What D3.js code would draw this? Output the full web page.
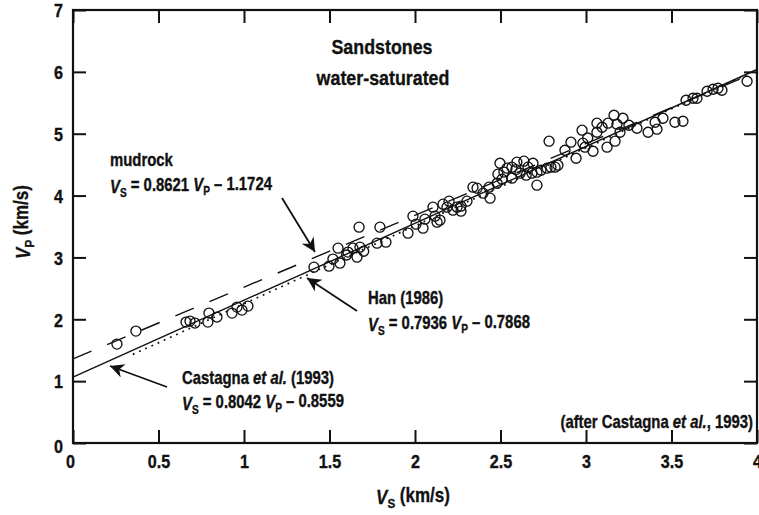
<!DOCTYPE html>
<html><head><meta charset="utf-8">
<script src="https://cdn.jsdelivr.net/npm/d3@7"></script>
<style>
body{margin:0;background:#fff;}
text{font-family:"Liberation Sans",Arial,Helvetica,sans-serif;font-weight:bold;fill:#111;stroke:#111;stroke-width:0.35px;}
</style></head>
<body><svg id="c" width="759" height="515"></svg>
<script>
// ---- data ----
const xTicks = [0,0.5,1,1.5,2,2.5,3,3.5,4];
const yTicks = [0,1,2,3,4,5,6,7];
const vs = [0.257,0.368,0.661,0.684,0.713,0.795,0.789,0.842,0.930,0.959,0.988,1.023,
 1.409,1.497,1.520,1.550,1.561,1.608,1.637,1.661,1.678,1.673,1.778,1.795,1.830,
 1.959,1.988,2.006,2.047,2.058,2.105,2.117,2.129,2.164,2.199,2.246,2.269,2.269,2.304,
 2.339,2.363,2.398,2.433,2.439,2.480,2.497,2.485,2.509,2.538,2.567,2.567,2.596,2.614,
 2.637,2.661,2.690,2.684,2.713,2.713,2.737,2.772,2.795,2.819,2.836,2.784,2.877,2.912,
 2.942,2.977,2.982,2.994,3.041,3.064,3.094,3.064,3.123,3.129,3.164,3.181,3.199,3.170,
 3.216,3.251,3.298,3.363,3.404,3.415,3.450,3.520,3.567,3.585,3.626,3.649,3.708,3.743,
 3.772,3.795,3.942,2.187,2.146,2.222,1.600,1.700,2.520,2.590,2.650,3.010];
const vp = [1.599,1.809,1.955,1.971,1.939,2.100,1.955,2.036,2.100,2.197,2.149,2.213,
 2.843,2.859,2.973,3.150,2.908,3.086,3.150,3.005,3.166,3.489,3.231,3.489,3.247,
 3.393,3.667,3.538,3.473,3.619,3.813,3.667,3.570,3.861,3.910,3.813,3.829,3.748,3.910,
 4.136,4.120,4.039,4.136,3.958,4.200,4.523,4.346,4.265,4.443,4.459,4.281,4.540,4.362,
 4.556,4.459,4.523,4.362,4.378,4.168,4.410,4.443,4.459,4.459,4.491,4.879,4.733,4.863,
 4.604,5.057,4.847,4.782,4.717,5.170,5.105,5.024,4.782,5.170,5.299,5.153,5.024,4.879,
 5.250,5.137,5.089,5.024,5.186,5.073,5.250,5.186,5.202,5.541,5.574,5.574,5.687,5.719,
 5.735,5.703,5.848,3.813,3.603,3.764,3.040,3.100,4.380,4.420,4.330,4.930];
// regressions Vs = a*Vp + b, drawn over a Vs range
const lineNames = ["mudrock","Han","Castagna"];
const lineA = [0.8621,0.7936,0.8042];
const lineB = [-1.1724,-0.7868,-0.8559];
const lineVsFrom = [0,0.35,0];
const lineVsTo = [4,4,4];

// ---- chart ----
const SX = 0.85; // horizontal condensing of the bold sans font
const svg = d3.select("#c");
const x = d3.scaleLinear([0,4],[73,757]);
const y = d3.scaleLinear([0,7],[443,10]);
const T = 13;

function condenseAxisText(sel){
  sel.each(function(){
    const t = d3.select(this);
    const tx = +t.attr("x") || 0;
    t.attr("x",0).attr("transform",`translate(${tx},0) scale(${SX},1)`);
  });
}
const fmt = d => String(d);
const gb = svg.append("g").attr("transform",`translate(0,${y(0)})`)
  .call(d3.axisBottom(x).tickValues(xTicks).tickFormat(fmt).tickSizeInner(-T).tickSizeOuter(0).tickPadding(12));
gb.select(".domain").remove();
gb.selectAll("text").attr("font-size",19).call(condenseAxisText);
gb.selectAll(".tick").filter(d=>d===0).select("text").attr("transform",`translate(-3,0) scale(${SX},1)`);
const gl = svg.append("g").attr("transform",`translate(${x(0)},0)`)
  .call(d3.axisLeft(y).tickValues(yTicks).tickFormat(fmt).tickSizeInner(-T).tickSizeOuter(0).tickPadding(10));
gl.select(".domain").remove();
gl.selectAll("text").attr("font-size",19).attr("dy",(d)=> d===0 ? "0.5em" : "0.36em").call(condenseAxisText);
const gt = svg.append("g").attr("transform",`translate(0,${y(7)})`)
  .call(d3.axisTop(x).tickValues(xTicks).tickFormat("").tickSizeInner(-T).tickSizeOuter(0));
gt.select(".domain").remove();
const gr = svg.append("g").attr("transform",`translate(${x(4)},0)`)
  .call(d3.axisRight(y).tickValues(yTicks).tickFormat("").tickSizeInner(-T).tickSizeOuter(0));
gr.select(".domain").remove();
svg.selectAll(".tick line").attr("stroke","#111").attr("stroke-width",2);

svg.append("rect").attr("x",x(0)).attr("y",y(7)).attr("width",x(4)-x(0)).attr("height",y(0)-y(7))
  .attr("fill","none").attr("stroke","#111").attr("stroke-width",2.2);

// lines
const dashes = ["20,17","1.8,5",null];
const widths = [1.4,1.7,1.4];
lineNames.forEach((n,i)=>{
  const f = s => (s - lineB[i]) / lineA[i];
  const pts = [lineVsFrom[i], lineVsTo[i]].map(s=>[x(s), y(f(s))]);
  svg.append("path").attr("d", d3.line()(pts)).attr("fill","none")
    .attr("stroke","#111").attr("stroke-width",widths[i])
    .attr("stroke-dasharray",dashes[i]);
});

// points
svg.append("g").selectAll("circle").data(vs.map((v,i)=>[v,vp[i]])).join("circle")
  .attr("cx",d=>x(d[0])).attr("cy",d=>y(d[1])).attr("r",5)
  .attr("fill","none").attr("stroke","#111").attr("stroke-width",1.35);

// text helper
function txt(xp, yp, size, anchor, rot){
  return svg.append("text")
    .attr("transform",`translate(${xp},${yp})${rot?` rotate(${rot})`:""} scale(${SX},1)`)
    .attr("font-size",size).attr("text-anchor",anchor||"start");
}
function vLabel(g, sub){
  g.append("tspan").attr("font-style","italic").text("V");
  g.append("tspan").attr("font-size","0.68em").attr("dy","0.3em").text(sub);
  g.append("tspan").attr("dy","-0.3em").text(" (km/s)");
}
vLabel(txt(413,504,20,"middle"),"S");
vLabel(txt(30,222,20,"middle",-90),"P");

function eq(xp, yp, a, b){
  const t = txt(xp,yp,17.5);
  t.append("tspan").attr("font-style","italic").text("V");
  t.append("tspan").attr("font-size","0.68em").attr("dy","0.3em").text("S");
  t.append("tspan").attr("dy","-0.3em").text(" = " + a.toFixed(4) + " ");
  t.append("tspan").attr("font-style","italic").text("V");
  t.append("tspan").attr("font-size","0.68em").attr("dy","0.3em").text("P");
  t.append("tspan").attr("dy","-0.3em").text(" \u2013 " + Math.abs(b).toFixed(4));
}
txt(382,54,21,"middle").text("Sandstones");
txt(383,85,21,"middle").text("water-saturated");

txt(110,166,17.5).text("mudrock");
eq(110,193,lineA[0],lineB[0]);
txt(368,304,17.5).text("Han (1986)");
eq(368,331,lineA[1],lineB[1]);
const ct = txt(182,384,17.5);
ct.append("tspan").text("Castagna ");
ct.append("tspan").attr("font-style","italic").text("et al.");
ct.append("tspan").text(" (1993)");
eq(182,410,lineA[2],lineB[2]);
const at = txt(753,428,17.5,"end");
at.append("tspan").text("(after Castagna ");
at.append("tspan").attr("font-style","italic").text("et al.");
at.append("tspan").text(", 1993)");

// arrows
const defs = svg.append("defs");
defs.append("marker").attr("id","ah").attr("viewBox","0 0 10 10").attr("refX",10).attr("refY",5)
  .attr("markerWidth",20).attr("markerHeight",14).attr("markerUnits","userSpaceOnUse").attr("orient","auto")
  .append("path").attr("d","M0,0 L10,5 L0,10 L3,5 Z").attr("fill","#111");
const arrows = [[[282,198],[315,252]],[[357,311],[307,278]],[[167,387],[110,366]]];
arrows.forEach(a=>{
  svg.append("line").attr("x1",a[0][0]).attr("y1",a[0][1]).attr("x2",a[1][0]).attr("y2",a[1][1])
    .attr("stroke","#111").attr("stroke-width",1.8).attr("marker-end","url(#ah)");
});
</script></body></html>
